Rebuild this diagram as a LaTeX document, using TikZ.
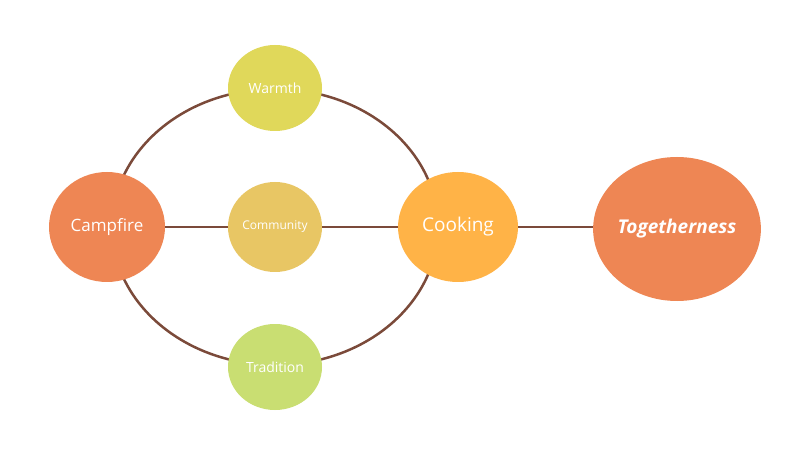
\documentclass[tikz,border=0pt]{standalone}
\usepackage{fontspec}
\setmainfont{Open Sans}
\usetikzlibrary{shapes.geometric}
\definecolor{edgec}{HTML}{7B4A3A}
\definecolor{cOrange}{HTML}{EE8654}
\definecolor{cYellow}{HTML}{E0D85A}
\definecolor{cGold}{HTML}{E8C664}
\definecolor{cGreen}{HTML}{C9DE72}
\definecolor{cCook}{HTML}{FFB347}
\begin{document}
\begin{tikzpicture}[x=1pt,y=1pt,
  blob/.style={ellipse,inner sep=0pt,text=white,font=\fontsize{17}{19}\selectfont},
  small/.style={blob,font=\fontsize{14}{16}\selectfont},
  link/.style={draw=edgec,line width=2.5pt}]
\useasboundingbox[fill=white] (0,0) rectangle (806,453);
\coordinate (hub) at (275,226);
\draw[link] (hub) ellipse[x radius=163,y radius=138];
\node[blob,fill=cOrange,minimum width=116,minimum height=110] (camp) at (107,226) {Campfire};
\node[small,fill=cYellow,minimum width=94,minimum height=86] (warm) at (275,365) {Warmth};
\node[small,fill=cGold,minimum width=94,minimum height=90,font=\fontsize{12}{14}\selectfont] (comm) at (275,226) {Community};
\node[small,fill=cGreen,minimum width=94,minimum height=86] (trad) at (275,86) {Tradition};
\node[blob,fill=cCook,minimum width=120,minimum height=110,font=\fontsize{19}{21}\selectfont] (cook) at (458,226) {Cooking};
\node[blob,fill=cOrange,minimum width=160,minimum height=144,font=\fontsize{19}{21}\selectfont\bfseries\itshape] (tog) at (677,224) {Togetherness};
\begin{scope}[on background layer/.try]
\end{scope}
\draw[link] (camp) -- (comm);
\draw[link] (comm) -- (cook);
\draw[link] (cook.east) -- (tog.west |- cook.east);
\end{tikzpicture}
\end{document}
